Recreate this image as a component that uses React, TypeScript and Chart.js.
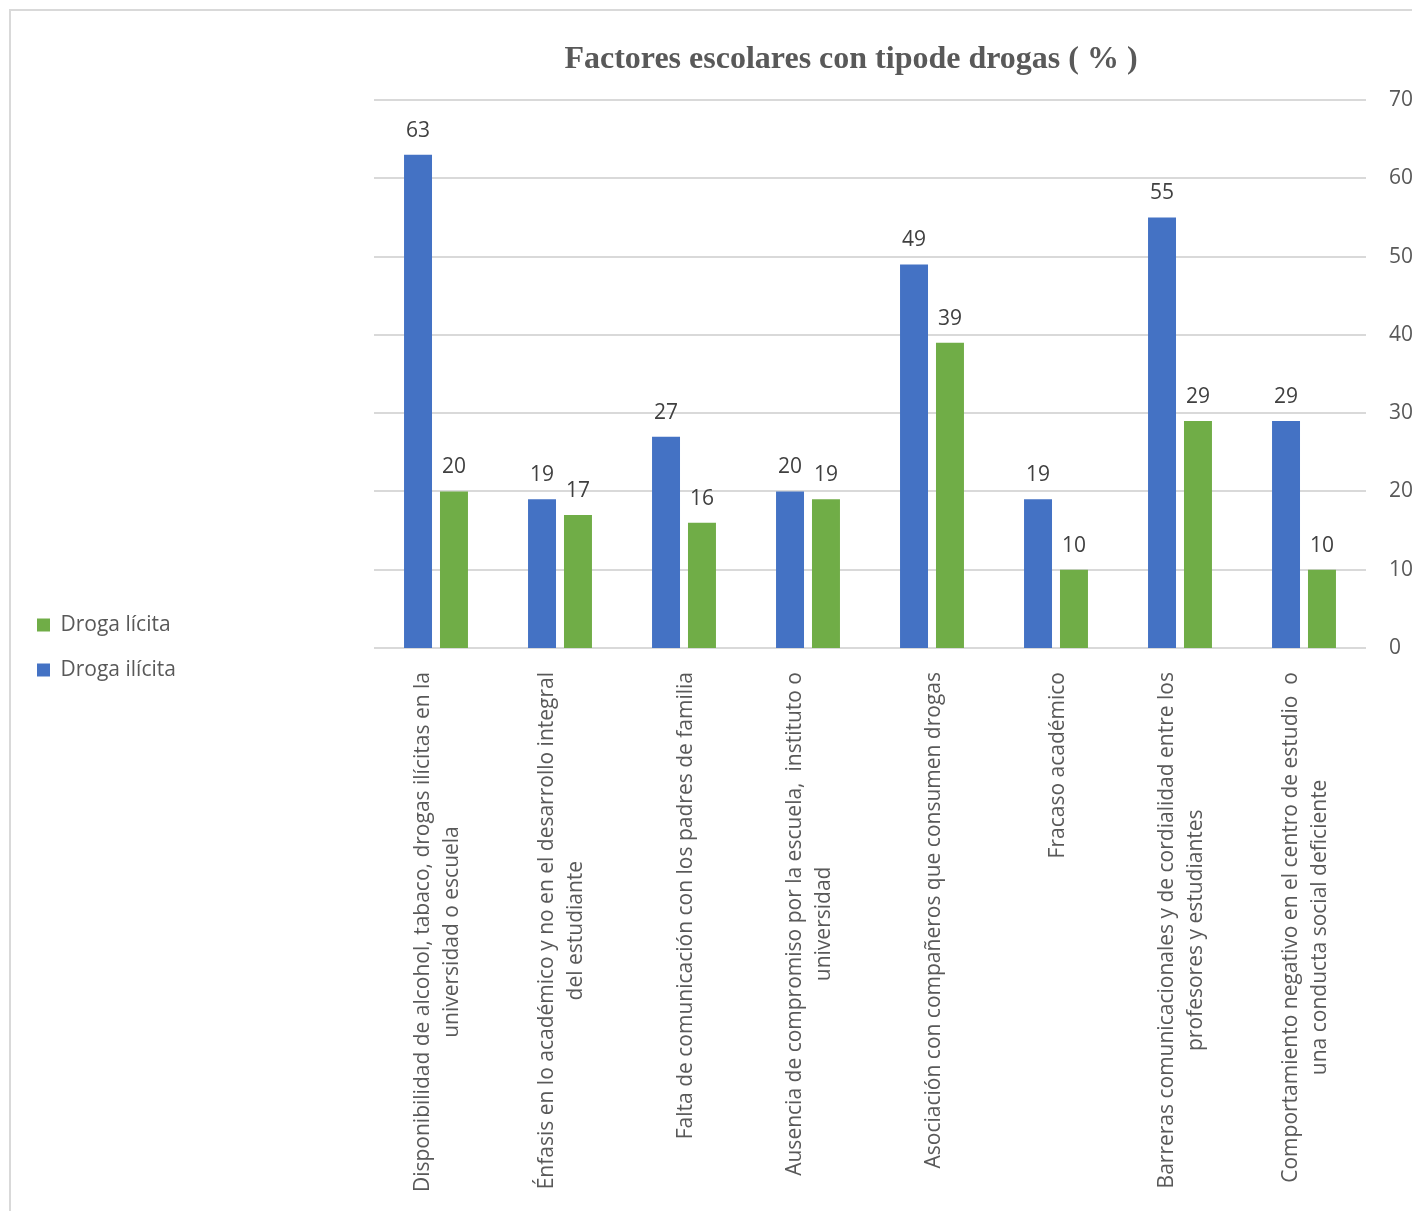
import React, { useEffect, useRef } from "react";
import { Chart, registerables } from "chart.js";

Chart.register(...registerables);

const chartTitle = "Factores escolares con tipode drogas ( % )";

const categories: string[][] = [
  ["Disponibilidad de alcohol, tabaco, drogas ilícitas en la", "universidad o escuela"],
  ["Énfasis en lo académico y no en el desarrollo integral", "del estudiante"],
  ["Falta de comunicación con los padres de familia"],
  ["Ausencia de compromiso por la escuela,  instituto o", "universidad"],
  ["Asociación con compañeros que consumen drogas"],
  ["Fracaso académico"],
  ["Barreras comunicacionales y de cordialidad entre los", "profesores y estudiantes"],
  ["Comportamiento negativo en el centro de estudio  o", "una conducta social deficiente"],
];

const seriesNames = ["Droga ilícita", "Droga lícita"];
const drogaIlicita = [63, 19, 27, 20, 49, 19, 55, 29];
const drogaLicita = [20, 17, 16, 19, 39, 10, 29, 10];

const yMin = 0;
const yMax = 70;
const yStep = 10;

const FONT = "'Open Sans', sans-serif";
const W = 1405;
const H = 1200;

export default function App() {
  const ref = useRef<HTMLCanvasElement | null>(null);

  useEffect(() => {
    const canvas = ref.current;
    if (!canvas) return;

    const drawPlugin = {
      id: "customText",
      afterDraw(chart: any) {
        const ctx = chart.ctx as CanvasRenderingContext2D;
        const area = chart.chartArea;
        const xs = chart.scales.x;
        ctx.save();
        // title
        ctx.font = "bold 32px 'Liberation Serif', 'Times New Roman', serif";
        ctx.fillStyle = "#595959";
        ctx.textAlign = "center";
        ctx.textBaseline = "alphabetic";
        ctx.fillText(chartTitle, (area.left + area.right) / 2 - 19, 57);

        // category labels (rotated, lines centred on each other)
        ctx.font = `21px ${FONT}`;
        ctx.fillStyle = "#595959";
        ctx.textBaseline = "middle";
        ctx.textAlign = "center";
        const pitch = 29;
        categories.forEach((lines, i) => {
          const x = xs.getPixelForValue(i);
          const maxW = Math.max(...lines.map((l) => ctx.measureText(l).width));
          ctx.save();
          ctx.translate(x, area.bottom + 24);
          ctx.rotate(-Math.PI / 2);
          lines.forEach((l, k) => {
            ctx.fillText(l, -maxW / 2, (k - (lines.length - 1) / 2) * pitch + 2);
          });
          ctx.restore();
        });

        // data labels
        ctx.font = `21px ${FONT}`;
        ctx.fillStyle = "#404040";
        ctx.textAlign = "center";
        ctx.textBaseline = "alphabetic";
        chart.data.datasets.forEach((ds: any, di: number) => {
          const meta = chart.getDatasetMeta(di);
          meta.data.forEach((bar: any, j: number) => {
            ctx.fillText(String(ds.data[j]), bar.x, bar.y - 18);
          });
        });
        ctx.restore();
      },
    };

    const chart = new Chart(canvas, {
      type: "bar",
      data: {
        labels: categories.map((c) => c.join(" ")),
        datasets: [
          {
            label: seriesNames[0],
            data: drogaIlicita,
            backgroundColor: "#4472C4",
            borderWidth: 0,
            categoryPercentage: 0.58,
            barPercentage: 0.778,
          },
          {
            label: seriesNames[1],
            data: drogaLicita,
            backgroundColor: "#70AD47",
            borderWidth: 0,
            categoryPercentage: 0.58,
            barPercentage: 0.778,
          },
        ],
      },
      options: {
        responsive: false,
        animation: false,
        devicePixelRatio: 1,
        layout: { padding: { left: 2, top: 89, right: 0, bottom: 16 } },
        plugins: {
          title: { display: false },
          tooltip: { enabled: false },
          legend: {
            display: true,
            position: "left",
            align: "center",
            reverse: true,
            labels: {
              boxWidth: 13,
              boxHeight: 13,
              padding: 24,
              color: "#595959",
              font: { family: FONT, size: 21 },
            },
          },
        },
        scales: {
          x: {
            type: "category",
            grid: { display: false },
            border: { display: false },
            ticks: { display: false },
            afterFit(s: any) {
              s.height = 547;
            },
          },
          pad: {
            type: "linear",
            position: "left",
            display: true,
            grid: { display: false },
            border: { display: false },
            ticks: { display: false },
            afterFit(s: any) {
              const lw = s.chart.legend && s.chart.legend.width ? s.chart.legend.width : 170;
              s.width = Math.max(0, 363 - 2 - lw);
            },
          },
          y: {
            type: "linear",
            position: "right",
            min: yMin,
            max: yMax,
            ticks: {
              stepSize: yStep,
              color: "#595959",
              font: { family: FONT, size: 21 },
              padding: 23,
            },
            grid: { color: "#D9D9D9", lineWidth: 2, drawTicks: false },
            border: { display: false },
            afterFit(s: any) {
              s.width = 50;
            },
          },
        },
      } as any,
      plugins: [drawPlugin],
    });

    return () => chart.destroy();
  }, []);

  return (
    <div style={{ paddingTop: 1, paddingLeft: 1 }}>
      <div
        style={{
          borderTop: "2px solid #D9D9D9",
          borderLeft: "2px solid #D9D9D9",
          width: W,
          height: H,
        }}
      >
        <canvas ref={ref} width={W} height={H} style={{ display: "block", width: W, height: H }} />
      </div>
    </div>
  );
}
